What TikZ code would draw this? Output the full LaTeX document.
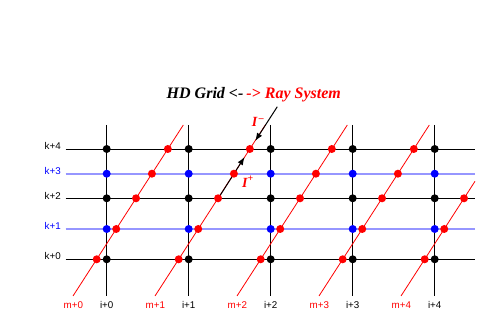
\documentclass[tikz,border=0pt]{standalone}
\usepackage{fontspec}
\setmainfont{Liberation Serif}
\setsansfont{Liberation Sans}
\usetikzlibrary{arrows.meta}
\definecolor{gridblue}{RGB}{150,150,255}
\begin{document}
\begin{tikzpicture}[x=1pt,y=-1pt,
  hline/.style={black, line width=0.9pt},
  bline/.style={gridblue, line width=1.8pt},
  vline/.style={black, line width=0.9pt},
  ray/.style={red, line width=0.8pt},
  arr/.style={black, line width=1pt, -{Latex[length=8pt,width=6pt]}},
  gdot/.style={circle, fill=#1, draw=none, inner sep=0pt, minimum size=8pt},
  lab/.style={font=\sffamily\fontsize{9.8}{11}\selectfont, inner sep=0pt, anchor=base},
  ilab/.style={font=\bfseries\itshape\fontsize{14}{16}\selectfont, text=red, inner sep=0pt},
]
\useasboundingbox (0,0) rectangle (491,331);
% horizontal lines
\foreach \k/\y in {0/259.3,1/229,2/198.3,3/173.7,4/149} {
  \coordinate (L\k) at (65.5,\y);
  \coordinate (R\k) at (475,\y);
}
\draw[bline] (L1) -- (R1);
\draw[bline] (L3) -- (R3);
\draw[hline] (L0) -- (R0);
\draw[hline] (L2) -- (R2);
\draw[hline] (L4) -- (R4);
% vertical lines
\foreach \i in {0,...,4} {
  \coordinate (T\i) at (106.7+82*\i,125);
  \coordinate (B\i) at (106.7+82*\i,296);
  \draw[vline] (T\i) -- (B\i);
}
% rays
\foreach \j in {0,...,3} {
  \coordinate (RB\j) at (73.0+82*\j,296);
  \coordinate (RT\j) at (183.3+82*\j,125);
  \draw[ray] (RB\j) -- (RT\j);
}
\coordinate (RB4) at (401.0,296);
\coordinate (RT4) at (475,181.3);
\draw[ray] (RB4) -- (RT4);
% black arrows
\coordinate (Am) at (277.3,106.7);
\coordinate (Amtip) at (255.2,141);
\coordinate (Ap) at (218.3,198.3);
\coordinate (Aptip) at (244.6,157);
\draw[arr] (Am) -- (Amtip);
\draw[arr] (Ap) -- (Aptip);
% red dots
\foreach \j in {0,...,4} {
  \foreach \k/\y in {0/259.3,1/229,2/198.3,3/173.7,4/149} {
    \pgfmathsetmacro\rx{96.7+82*\j+(259.3-\y)*0.645}
    \ifdim\rx pt<475pt
      \node[gdot=red] (D\j\k) at (\rx,\y) {};
    \fi
  }
}
% grid dots
\foreach \i in {0,...,4} {
  \foreach \k/\y/\c in {0/259.3/black,1/229/blue,2/198.3/black,3/173.7/blue,4/149/black} {
    \node[gdot=\c] (G\i\k) at (106.7+82*\i,\y) {};
  }
}
% left labels
\node[lab] (k0) at (52.7,260) {k+0};
\node[lab, text=blue] (k1) at (52.7,230) {k+1};
\node[lab] (k2) at (52.7,199.3) {k+2};
\node[lab, text=blue] (k3) at (52.7,174.7) {k+3};
\node[lab] (k4) at (52.7,150) {k+4};
% bottom labels
\foreach \j in {0,...,4} {
  \node[lab, text=red] (m\j) at (73.3+82*\j,308.3) {m+\j};
  \node[lab] (i\j) at (106.7+82*\j,308.3) {i+\j};
}
% I labels
\node[ilab] (Im) at (258,121.7) {I\textsuperscript{\,–}};
\node[ilab] (Ip) at (248,181.7) {I\textsuperscript{+}};
% title
\node[font=\bfseries\itshape\fontsize{16}{19}\selectfont, inner sep=0pt, anchor=base] (title) at (253.8,98.7)
  {HD Grid <-\kern3pt{\color{red}->\ Ray System}};
\end{tikzpicture}
\end{document}
